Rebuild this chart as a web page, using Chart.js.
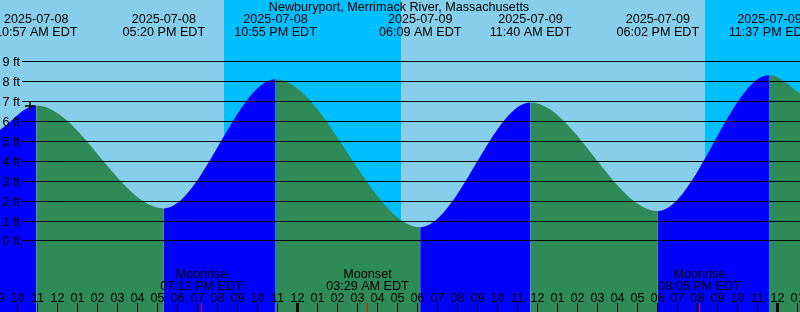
<!DOCTYPE html>
<html><head><meta charset="utf-8">
<style>html,body{margin:0;padding:0;background:#87CEEB;overflow:hidden}canvas{display:block}</style>
<script src="https://cdn.jsdelivr.net/npm/chart.js@4.4.1/dist/chart.umd.min.js"></script>
</head><body>
<canvas id="c" width="800" height="312"></canvas>
<script>
const TITLE = "Newburyport, Merrimack River, Massachusetts";
// time axis: hours since 2025-07-08 00:00 EDT
const viewStart = 9.14;
const viewEnd = 49.14;
const edgeHeights = [5.55, 7.4];           // water height at left / right edge (ft)
const tideTimes = [10.95, 17.333, 22.917, 30.15, 35.667, 42.033, 47.617];
const tideHeights = [6.78, 1.61, 8.10, 0.67, 6.93, 1.48, 8.32];
const tideDates = ["2025-07-08","2025-07-08","2025-07-08","2025-07-09","2025-07-09","2025-07-09","2025-07-09"];
const tideLabels = ["10:57 AM EDT","05:20 PM EDT","10:55 PM EDT","06:09 AM EDT","11:40 AM EDT","06:02 PM EDT","11:37 PM EDT"];
const nightStarts = [20.33, 44.38];
const nightEnds = [29.2, 49.14];
const moonTimes = [19.2, 27.483, 44.083];
const moonEvents = ["Moonrise","Moonset","Moonrise"];
const moonLabels = ["07:12 PM EDT","03:29 AM EDT","08:05 PM EDT"];
const heightTicks = [0,1,2,3,4,5,6,7,8,9];
const hourTickFirst = 9;
const hourLabels = ["09","10","11","12","01","02","03","04","05","06","07","08","09","10","11","12",
  "01","02","03","04","05","06","07","08","09","10","11","12",
  "01","02","03","04","05","06","07","08","09","10","11","12","01"];
const markTime = [10.64];
const markHeight = [6.76];
const yMin = -3.593, yMax = 12.085;

const DAY = '#87CEEB', NIGHT = '#00BFFF', RISING = '#0000FF', FALLING = '#2E8B57';
const FONT = '12.6px "Liberation Sans", Arial, sans-serif';

const curve = [{x: viewStart, y: edgeHeights[0]}]
  .concat(tideTimes.map((t, i) => ({x: t, y: tideHeights[i]})))
  .concat([{x: viewEnd, y: edgeHeights[1]}]);
const marks = markTime.map((t, i) => ({x: t, y: markHeight[i]}));

const decor = {
  id: 'decor',
  beforeDatasetsDraw(chart) {
    const {ctx, chartArea: a, scales: {x}} = chart;
    ctx.save();
    ctx.fillStyle = DAY;
    ctx.fillRect(a.left, a.top, a.right - a.left, a.bottom - a.top);
    ctx.fillStyle = NIGHT;
    nightStarts.forEach((s, i) => {
      const x0 = Math.round(x.getPixelForValue(s)), x1 = Math.round(x.getPixelForValue(nightEnds[i]));
      ctx.fillRect(x0, a.top, x1 - x0, a.bottom - a.top);
    });
    ctx.restore();
  },
  afterDatasetsDraw(chart) {
    const {ctx, chartArea: a, scales: {x, y}} = chart;
    ctx.save();
    ctx.strokeStyle = '#000'; ctx.lineWidth = 1;
    ctx.font = FONT; ctx.fillStyle = '#000';
    heightTicks.forEach(h => {
      const py = Math.round(y.getPixelForValue(h)) + 0.5;
      ctx.beginPath(); ctx.moveTo(22, py); ctx.lineTo(a.right, py); ctx.stroke();
      ctx.textAlign = 'left'; ctx.textBaseline = 'alphabetic';
      ctx.fillText(h + ' ft', 2.5, py + 4);
    });
    ctx.textAlign = 'center';
    hourLabels.forEach((lab, i) => {
      const hr = hourTickFirst + i;
      const px = Math.round(x.getPixelForValue(hr));
      const midnight = hr % 24 === 0;
      ctx.fillStyle = '#000';
      if (midnight) ctx.fillRect(px - 1, 303, 3, 9);
      else ctx.fillRect(px, 303, 1, 9);
      ctx.fillText(lab, px + 0.5, 301.5);
    });
    moonTimes.forEach((t, i) => {
      const px = Math.round(x.getPixelForValue(t));
      ctx.fillStyle = '#FF0000';
      ctx.fillRect(px, 303, 1, 9);
      ctx.fillStyle = '#000';
      ctx.fillText(moonEvents[i], px + 0.5, 277.5);
      ctx.fillText(moonLabels[i], px + 0.5, 290);
    });
    ctx.fillText(TITLE, 399, 11);
    tideTimes.forEach((t, i) => {
      const px = x.getPixelForValue(t);
      ctx.fillText(tideDates[i], px, 23.3);
      ctx.fillText(tideLabels[i], px, 35.7);
    });
    ctx.restore();
  }
};

new Chart(document.getElementById('c'), {
  type: 'line',
  data: {
    datasets: [
      {
        data: marks, showLine: false, pointStyle: 'cross', pointRadius: 5,
        pointBorderColor: '#000', pointBorderWidth: 1.5, order: 0, clip: false
      },
      {
        data: curve, cubicInterpolationMode: 'monotone', tension: 0.4,
        borderColor: 'rgba(0,0,0,0)', borderWidth: 0, pointRadius: 0,
        fill: 'start', backgroundColor: FALLING, order: 1,
        segment: {
          backgroundColor: c => c.p1.parsed.y >= c.p0.parsed.y ? RISING : FALLING
        }
      }
    ]
  },
  options: {
    responsive: false, animation: false, devicePixelRatio: 1,
    layout: {padding: 0, autoPadding: false},
    plugins: {legend: {display: false}, tooltip: {enabled: false}, title: {display: false}},
    scales: {
      x: {type: 'linear', min: viewStart, max: viewEnd, display: false},
      y: {type: 'linear', min: yMin, max: yMax, display: false}
    },
    events: []
  },
  plugins: [decor]
});
</script>
</body></html>
